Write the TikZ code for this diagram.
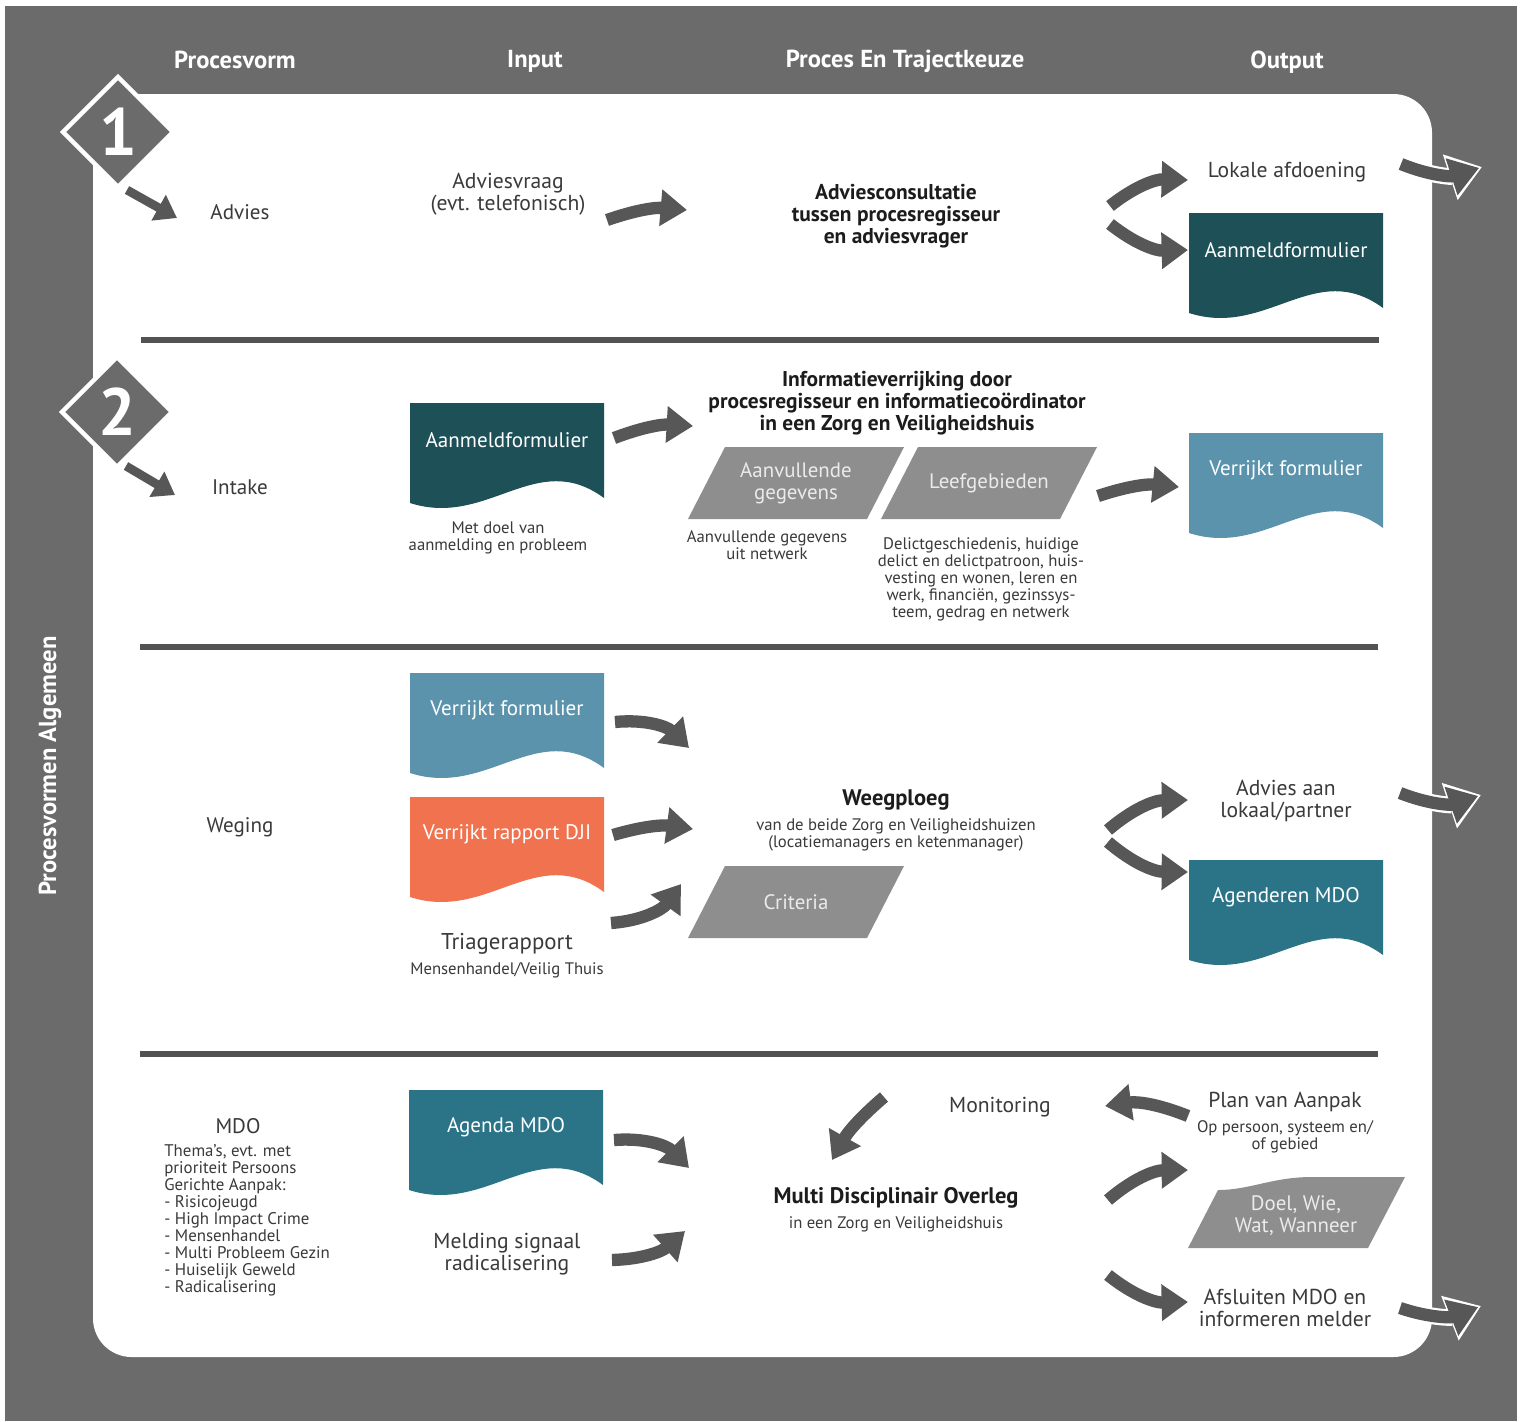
\documentclass[tikz,border=0pt]{standalone}
\usepackage{fontspec}
\setmainfont{PT Sans}
\usetikzlibrary{arrows.meta}

\definecolor{framegray}{HTML}{6B6B6B}
\definecolor{sepgray}{HTML}{525252}
\definecolor{arrowgray}{HTML}{575757}
\definecolor{darkteal}{HTML}{1E5058}
\definecolor{steelblue}{HTML}{5B92AC}
\definecolor{djiorange}{HTML}{F0724F}
\definecolor{mdoteal}{HTML}{2B7488}
\definecolor{paragray}{HTML}{8E8E8E}
\definecolor{txtgray}{HTML}{3A3A3A}
\definecolor{txtdark}{HTML}{1C1C1C}

% document with a wavy bottom: name, left x, top y, colour, text
\newcommand{\docbox}[5]{%
  \fill[#4] (#2,#3) -- ({#2+194},#3) -- ({#2+194},{#3+95})
    .. controls ({#2+126},{#3+45}) and ({#2+78},{#3+125}) .. (#2,{#3+100}) -- cycle;
  \node[doctext] (#1) at ({#2+97},{#3+37}) {#5};}
% slanted box: name, left x (bottom), top y, text
\newcommand{\slantbox}[4]{%
  \fill[paragray] (#2,{#3+72}) -- ({#2+37},#3) -- ({#2+216},#3) -- ({#2+179},{#3+72}) -- cycle;
  \node[slanttext] (#1) at ({#2+108},{#3+36}) {#4};}
% numbered diamond: name, x, y, number
\newcommand{\stepdiamond}[4]{%
  \filldraw[fill=framegray, draw=white, line width=2.5pt]
    (#2,{#3-55}) -- ({#2+55},#3) -- (#2,{#3+55}) -- ({#2-55},#3) -- cycle;
  \node[numtext] (#1) at (#2,#3) {#4};}

\begin{document}
\begin{tikzpicture}[x=0.02cm, y=-0.02cm,
    head/.style={text=white, font=\bfseries\fontsize{14}{16}\selectfont},
    side/.style={text=white, font=\bfseries\fontsize{14}{16}\selectfont},
    numtext/.style={text=white, font=\bfseries\fontsize{38}{40}\selectfont},
    form/.style={text=txtgray, font=\fontsize{12}{13}\selectfont},
    label/.style={text=txtgray, align=center, font=\fontsize{12.3}{12.5}\selectfont},
    title/.style={text=txtdark, align=center, font=\bfseries\fontsize{12.2}{12.5}\selectfont},
    caption/.style={text=txtgray, align=center, font=\fontsize{9.5}{9.7}\selectfont},
    listtext/.style={text=txtgray, align=left, inner sep=0pt, font=\fontsize{9.6}{9.7}\selectfont},
    doctext/.style={text=white, font=\fontsize{12}{12.5}\selectfont},
    slanttext/.style={text=white!92!black, align=center, font=\fontsize{11.9}{12.5}\selectfont},
    sepline/.style={draw=sepgray, line width=3.4pt},
    fatarrow/.style={draw=arrowgray, line width=7pt, -{Triangle[length=15pt,width=20pt]}},
    smallarrow/.style={draw=arrowgray, line width=5pt, -{Triangle[length=12pt,width=16pt]}},
    exitback/.style={draw=white, line width=9.5pt, -{Triangle[length=19pt,width=26pt]}},
    exitfront/.style={draw=arrowgray, line width=7pt, shorten >=1.7pt, -{Triangle[length=16.5pt,width=21pt]}}]
  \useasboundingbox (0,0) rectangle (1522,1421);

  % frame and panel
  \fill[framegray] (5,6) rectangle (1517,1421);
  \fill[white, rounded corners=22pt] (93,94) rectangle (1432,1357);
  \draw[sepline] (141,340) -- (1379,340);
  \draw[sepline] (140,647) -- (1378,647);
  \draw[sepline] (140,1054) -- (1378,1054);

  % column heads
  \node[head] (hvorm) at (235,60) {Procesvorm};
  \node[head] (hinput) at (535,61) {Input};
  \node[head] (hproces) at (905,61) {Proces En Trajectkeuze};
  \node[head] (houtput) at (1287,62) {Output};
  \node[side, rotate=90] (hside) at (50,766) {Procesvormen Algemeen};

  % row 1: advies
  \stepdiamond{d1}{118}{132}{1}
  \node[form] (advies) at (240,212) {Advies};
  \node[label] (vraag) at (508,194) {Adviesvraag\\(evt. telefonisch)};
  \node[title] (consult) at (896,216) {Adviesconsultatie\\tussen procesregisseur\\en adviesvrager};
  \node[label] (lokaal) at (1287,172) {Lokale afdoening};
  \docbox{aanmeld1}{1189}{213}{darkteal}{Aanmeldformulier}

  % row 2: intake
  \stepdiamond{d2}{117}{412}{2}
  \node[form] (intake) at (240,487) {Intake};
  \docbox{aanmeld2}{410}{403}{darkteal}{Aanmeldformulier}
  \node[caption] (doelcap) at (498,538) {Met doel van\\aanmelding en probleem};
  \node[title] (verrijking) at (897,403) {Informatieverrijking door\\procesregisseur en informatiecoördinator\\in een Zorg en Veiligheidshuis};
  \slantbox{aanvul}{688}{447}{Aanvullende\\gegevens}
  \slantbox{leef}{881}{447}{Leefgebieden}
  \node[caption] (aanvulcap) at (767,545) {Aanvullende gegevens\\uit netwerk};
  \node[caption] (leefcap) at (981,579) {Delictgeschiedenis, huidige\\delict en delictpatroon, huis-\\vesting en wonen, leren en\\werk, financiën, gezinssys-\\teem, gedrag en netwerk};
  \docbox{verrijkt2}{1189}{433}{steelblue}{Verrijkt formulier}

  % row 3: weging
  \node[form] (weging) at (240,827) {Weging};
  \docbox{verrijkt3}{410}{673}{steelblue}{Verrijkt formulier}
  \docbox{dji}{410}{797}{djiorange}{Verrijkt rapport DJI}
  \node[label, font=\fontsize{13}{14}\selectfont] (triage) at (507,944) {Triagerapport};
  \node[caption] (triagecap) at (507,970) {Mensenhandel/Veilig Thuis};
  \node[title, font=\bfseries\fontsize{12.8}{14}\selectfont] (weeg) at (896,800) {Weegploeg};
  \node[caption] (weegcap) at (896,835) {van de beide Zorg en Veiligheidshuizen\\(locatiemanagers en ketenmanager)};
  \slantbox{criteria}{688}{866}{Criteria}
  \node[label] (adviesaan) at (1286,801) {Advies aan\\lokaal/partner};
  \docbox{agenderen}{1189}{860}{mdoteal}{Agenderen MDO}

  % row 4: mdo
  \node[form] (mdo) at (238,1126) {MDO};
  \node[listtext, anchor=north west] (themas) at (164,1144) {Thema’s, evt. met\\prioriteit Persoons\\Gerichte Aanpak:\\- Risicojeugd\\- High Impact Crime\\- Mensenhandel\\- Multi Probleem Gezin\\- Huiselijk Geweld\\- Radicalisering};
  \docbox{agenda}{409}{1090}{mdoteal}{Agenda MDO}
  \node[label] (melding) at (507,1254) {Melding signaal\\radicalisering};
  \node[label] (monitor) at (1000,1107) {Monitoring};
  \node[title, font=\bfseries\fontsize{12.8}{14}\selectfont] (overleg) at (896,1198) {Multi Disciplinair Overleg};
  \node[caption] (overlegcap) at (896,1224) {in een Zorg en Veiligheidshuis};
  \node[label] (plan) at (1285,1102) {Plan van Aanpak};
  \node[caption] (plancap) at (1285,1137) {Op persoon, systeem en/\\of gebied};
  \fill[paragray] (1188,1248) -- (1218,1190) .. controls (1250,1190) and (1272,1177) .. (1312,1177)
    -- (1405,1177) -- (1368,1248) -- cycle;
  \node[slanttext] (doelwie) at (1296,1216) {Doel, Wie,\\Wat, Wanneer};
  \node[label] (afsluiten) at (1285,1308) {Afsluiten MDO en\\informeren melder};

  % arrow ends
  \coordinate (d1s) at (127,190);   \coordinate (d1e) at (177,218);
  \coordinate (d2s) at (126,466);   \coordinate (d2e) at (175,495);
  \coordinate (a11s) at (607,220);  \coordinate (a11e) at (687,210);
  \coordinate (a12s) at (1110,206); \coordinate (a12e) at (1188,180);
  \coordinate (a13s) at (1110,224); \coordinate (a13e) at (1188,250);
  \coordinate (a21s) at (614,438);  \coordinate (a21e) at (693,426);
  \coordinate (a22s) at (1098,496); \coordinate (a22e) at (1179,487);
  \coordinate (a31s) at (615,722);  \coordinate (a31e) at (689,748);
  \coordinate (a32s) at (613,835);  \coordinate (a32e) at (693,829);
  \coordinate (a33s) at (611,923);  \coordinate (a33e) at (681,884);
  \coordinate (a34s) at (1108,830); \coordinate (a34e) at (1188,800);
  \coordinate (a35s) at (1108,842); \coordinate (a35e) at (1188,872);
  \coordinate (a41s) at (614,1140); \coordinate (a41e) at (689,1168);
  \coordinate (a42s) at (612,1260); \coordinate (a42e) at (685,1231);
  \coordinate (a43s) at (884,1097); \coordinate (a43e) at (832,1160);
  \coordinate (a44s) at (1188,1116); \coordinate (a44e) at (1105,1106);
  \coordinate (a45s) at (1108,1200); \coordinate (a45e) at (1188,1170);
  \coordinate (a46s) at (1108,1275); \coordinate (a46e) at (1188,1302);
  \coordinate (x1s) at (1401,164);  \coordinate (x1e) at (1482,167);
  \coordinate (x3s) at (1400,793);  \coordinate (x3e) at (1481,795);
  \coordinate (x4s) at (1400,1308); \coordinate (x4e) at (1481,1306);

  % arrows
  \draw[smallarrow] (d1s) -- (d1e);
  \draw[smallarrow] (d2s) -- (d2e);
  \draw[fatarrow] (a11s) to[bend left=12] (a11e);
  \draw[fatarrow] (a12s) to[bend left=20] (a12e);
  \draw[fatarrow] (a13s) to[bend right=20] (a13e);
  \draw[fatarrow] (a21s) to[bend left=12] (a21e);
  \draw[fatarrow] (a22s) to[bend left=12] (a22e);
  \draw[fatarrow] (a31s) to[bend left=25] (a31e);
  \draw[fatarrow] (a32s) to[bend left=12] (a32e);
  \draw[fatarrow] (a33s) to[bend right=25] (a33e);
  \draw[fatarrow] (a34s) to[bend left=20] (a34e);
  \draw[fatarrow] (a35s) to[bend right=20] (a35e);
  \draw[fatarrow] (a41s) to[bend left=25] (a41e);
  \draw[fatarrow] (a42s) to[bend right=20] (a42e);
  \draw[fatarrow] (a43s) to[bend right=10] (a43e);
  \draw[fatarrow] (a44s) to[bend right=15] (a44e);
  \draw[fatarrow] (a45s) to[bend left=20] (a45e);
  \draw[fatarrow] (a46s) to[bend right=20] (a46e);

  % arrows leaving the panel
  \foreach \s/\e in {x1s/x1e, x3s/x3e, x4s/x4e} {
    \draw[exitback] (\s) to[bend right=20] (\e);
    \draw[exitfront] (\s) to[bend right=20] (\e);
  }
\end{tikzpicture}
\end{document}
